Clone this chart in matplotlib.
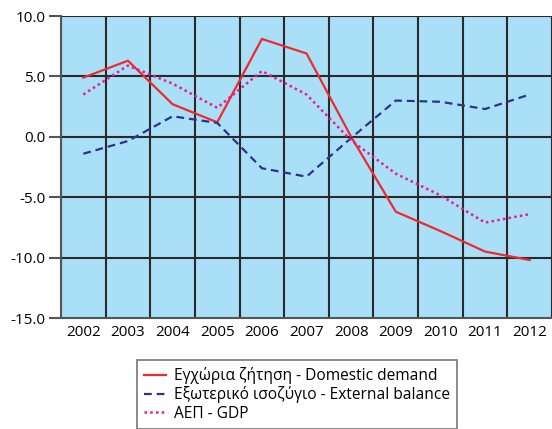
import matplotlib.pyplot as plt
from matplotlib.ticker import FormatStrFormatter

years = ['2002', '2003', '2004', '2005', '2006', '2007', '2008', '2009', '2010', '2011', '2012']
domestic = [4.9, 6.3, 2.7, 1.2, 8.1, 6.9, 0.0, -6.2, -7.8, -9.5, -10.2]
external = [-1.4, -0.35, 1.7, 1.15, -2.6, -3.3, -0.1, 3.0, 2.9, 2.3, 3.5]
gdp = [3.5, 5.9, 4.4, 2.4, 5.45, 3.5, -0.3, -3.05, -4.85, -7.1, -6.4]

labels = ['Εγχώρια ζήτηση - Domestic demand',
          'Εξωτερικό ισοζύγιο - External balance',
          'ΑΕΠ - GDP']

plt.rcParams['font.family'] = ['Open Sans', 'DejaVu Sans']

fig = plt.figure(figsize=(5.52, 4.29), dpi=100)
ax = fig.add_axes([0.1105, 0.2587, 0.8895, 0.704])
ax.set_facecolor('#aadff8')

x = list(range(len(years)))
ax.plot(x, domestic, color='#ee2a2e', lw=1.6, label=labels[0])
ax.plot(x, external, color='#2e3192', lw=1.6, ls=(0, (3.5, 2.2)), label=labels[1])
ax.plot(x, gdp, color='#ec1a8c', lw=1.8, ls=(0, (1, 1.3)), label=labels[2])

ax.set_xlim(-0.5, len(years) - 0.5)
ax.set_ylim(-15, 10)
ax.set_yticks([-15, -10, -5, 0, 5, 10])
ax.yaxis.set_major_formatter(FormatStrFormatter('%.1f'))
ax.set_xticks(x)
ax.set_xticklabels(years)

# grid lines sit between the year categories
for v in [i + 0.5 for i in range(-1, len(years))]:
    ax.axvline(v, color='#2a2a2a', lw=1.5, zorder=1)
for h in [-10, -5, 0, 5, 10]:
    ax.axhline(h, color='#2a2a2a', lw=1.5, zorder=1)

for s in ['top', 'right']:
    ax.spines[s].set_visible(False)
ax.spines['left'].set_color('#555555')
ax.spines['bottom'].set_color('#555555')
ax.spines['left'].set_linewidth(1.5)
ax.spines['bottom'].set_linewidth(1.5)
ax.tick_params(axis='y', length=9, width=1.5, color='#555555', labelsize=11, pad=2)
ax.tick_params(axis='x', length=0, labelsize=11, pad=5)

leg = fig.legend(loc='upper left', bbox_to_anchor=(137 / 552, 1 - 360 / 429),
                 borderaxespad=0, frameon=True, fancybox=False, fontsize=11.2,
                 handlelength=1.4, borderpad=0.45, labelspacing=0.15, handletextpad=0.55)
leg.get_frame().set_edgecolor('#555555')
leg.get_frame().set_linewidth(1.2)

fig.savefig('out.png', dpi=100)
